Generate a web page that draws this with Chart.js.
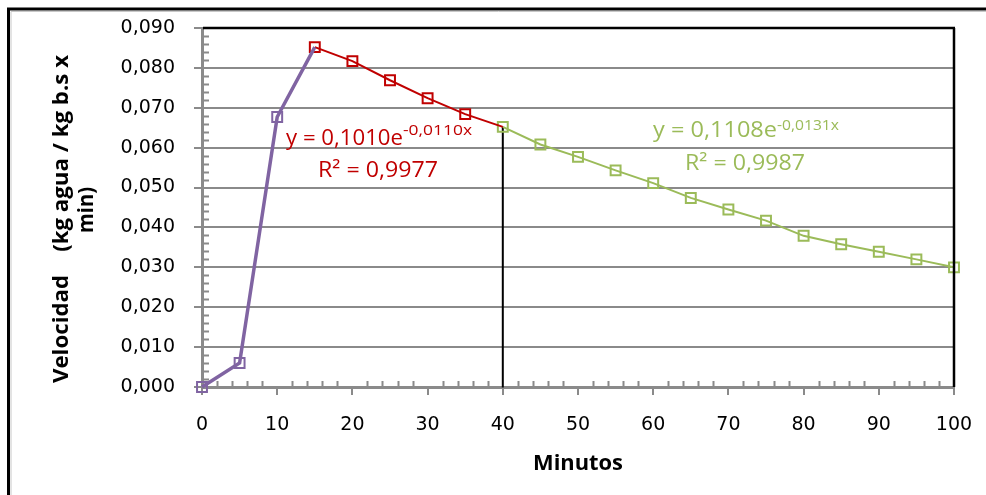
<!DOCTYPE html>
<html>
<head>
<meta charset="utf-8">
<script src="https://cdn.jsdelivr.net/npm/chart.js@4.4.1/dist/chart.umd.min.js"></script>
<style>
  html, body { margin: 0; padding: 0; background: #fff; }
  canvas { display: block; }
</style>
</head>
<body>
<canvas id="chart" width="986" height="495"></canvas>
<script>
// tiempo (min) and drying rate
const minutos = [0, 5, 10, 15, 20, 25, 30, 35, 40, 45, 50, 55, 60, 65, 70, 75, 80, 85, 90, 95, 100];
const velocidad = [0.0000, 0.0060, 0.0677, 0.0852, 0.0817, 0.0769, 0.0724, 0.0684, 0.0652,
  0.0608, 0.0577, 0.0543, 0.0511, 0.0474, 0.0445, 0.0417, 0.0379, 0.0358, 0.0339, 0.0320, 0.0300];

// index ranges of the three stretches of the curve
const tramoInicial = [0, 3];
const tramoConstante = [3, 8];
const tramoDecreciente = [8, 20];

const xTickLabels = ['0', '10', '20', '30', '40', '50', '60', '70', '80', '90', '100'];
const yTickLabels = ['0,000', '0,010', '0,020', '0,030', '0,040', '0,050', '0,060', '0,070', '0,080', '0,090'];

const ecuacion1 = { base: 'y = 0,1010e', exp: '-0,0110x', r2: 'R² = 0,9977' };
const ecuacion2 = { base: 'y = 0,1108e', exp: '-0,0131x', r2: 'R² = 0,9987' };

const AXIS_GRAY = '#8a8a8a';
const FONT = '"Open Sans", sans-serif';
const TICK_FONT = '"DejaVu Sans", sans-serif';

function puntos(rango) {
  const out = [];
  for (let i = rango[0]; i <= rango[1]; i++) out.push({ x: minutos[i], y: velocidad[i] });
  return out;
}

// hide the marker on the last point where the next stretch draws its own
function radios(rango, ocultarUltimo) {
  const r = [];
  for (let i = rango[0]; i <= rango[1]; i++) r.push(ocultarUltimo && i === rango[1] ? 0 : 7);
  return r;
}

// draw text squeezed/stretched to a given width (the source image is stretched sideways)
function textoAncho(ctx, txt, x, y, ancho, font, color, align) {
  ctx.save();
  ctx.font = font;
  ctx.fillStyle = color;
  ctx.textBaseline = 'alphabetic';
  const w = ctx.measureText(txt).width;
  const k = ancho / w;
  let left = x;
  if (align === 'center') left = x - ancho / 2;
  ctx.translate(left, y);
  ctx.scale(k, 1);
  ctx.textAlign = 'left';
  ctx.fillText(txt, 0, 0);
  ctx.restore();
}

const extras = {
  id: 'extras',
  beforeDraw(chart) {
    const ctx = chart.ctx;
    ctx.save();
    ctx.fillStyle = '#fff';
    ctx.fillRect(0, 0, chart.width, chart.height);
    ctx.restore();
  },
  afterDraw(chart) {
    const ctx = chart.ctx;
    const xs = chart.scales.x, ys = chart.scales.y;
    const area = chart.chartArea;
    ctx.save();

    // minor ticks, pointing into the plot
    ctx.strokeStyle = AXIS_GRAY;
    ctx.lineWidth = 2;
    ctx.beginPath();
    for (let v = 0; v <= 100.001; v += 2) {
      if (Math.round(v) % 10 === 0) continue;
      const px = Math.round(xs.getPixelForValue(v)) + 0.5;
      ctx.moveTo(px, area.bottom);
      ctx.lineTo(px, area.bottom - 6);
    }
    for (let k = 0; k <= 45; k++) {
      if (k % 5 === 0) continue;
      const py = Math.round(ys.getPixelForValue(k * 0.002)) + 0.5;
      ctx.moveTo(area.left, py);
      ctx.lineTo(area.left + 7, py);
    }
    ctx.stroke();

    // black top and right edges of the plot area
    ctx.strokeStyle = '#000';
    ctx.lineWidth = 2.5;
    ctx.beginPath();
    ctx.moveTo(area.left + 1, area.top);
    ctx.lineTo(area.right + 1, area.top);
    ctx.moveTo(area.right, area.top);
    ctx.lineTo(area.right, area.bottom);
    ctx.stroke();

    // outer chart frame
    ctx.strokeStyle = '#c8c8c8';
    ctx.lineWidth = 1;
    ctx.beginPath();
    ctx.moveTo(11, chart.height);
    ctx.lineTo(11, 11.5);
    ctx.lineTo(chart.width, 11.5);
    ctx.stroke();
    ctx.strokeStyle = '#000';
    ctx.lineWidth = 3;
    ctx.beginPath();
    ctx.moveTo(8.5, chart.height);
    ctx.lineTo(8.5, 9);
    ctx.lineTo(chart.width, 9);
    ctx.stroke();

    // trend line equations
    const rojo = '#c00000', verde = '#9bbb59';
    textoAncho(ctx, ecuacion1.base, 286, 145, 117, '22px ' + FONT, rojo);
    textoAncho(ctx, ecuacion1.exp, 403, 135, 69, '14px ' + FONT, rojo);
    textoAncho(ctx, ecuacion1.r2, 318, 177, 120, '22px ' + FONT, rojo);
    textoAncho(ctx, ecuacion2.base, 653, 137, 124, '22px ' + FONT, verde);
    textoAncho(ctx, ecuacion2.exp, 777, 130, 62, '14px ' + FONT, verde);
    textoAncho(ctx, ecuacion2.r2, 685, 170, 120, '22px ' + FONT, verde);

    // axis titles
    textoAncho(ctx, 'Minutos', 578, 470, 90, 'bold 21px ' + FONT, '#000', 'center');
    ctx.save();
    ctx.translate(68, 219);
    ctx.rotate(-Math.PI / 2);
    textoAncho(ctx, 'Velocidad    (kg agua / kg b.s x', 0, 0, 328, 'bold 22px ' + FONT, '#000', 'center');
    ctx.restore();
    ctx.save();
    ctx.translate(93, 210);
    ctx.rotate(-Math.PI / 2);
    textoAncho(ctx, 'min)', 0, 0, 46, 'bold 22px ' + FONT, '#000', 'center');
    ctx.restore();

    ctx.restore();
  }
};

new Chart(document.getElementById('chart'), {
  type: 'scatter',
  data: {
    datasets: [
      {
        data: puntos(tramoInicial),
        showLine: true,
        borderColor: '#8064a2',
        borderWidth: 3.5,
        pointStyle: 'rect',
        pointRadius: radios(tramoInicial, true),
        pointBorderColor: '#8064a2',
        pointBorderWidth: 2,
        pointBackgroundColor: 'rgba(0,0,0,0)',
        clip: false
      },
      {
        data: puntos(tramoConstante),
        showLine: true,
        borderColor: '#c00000',
        borderWidth: 2,
        pointStyle: 'rect',
        pointRadius: radios(tramoConstante, true),
        pointBorderColor: '#c00000',
        pointBorderWidth: 2,
        pointBackgroundColor: 'rgba(0,0,0,0)',
        clip: false
      },
      {
        data: puntos(tramoDecreciente),
        showLine: true,
        borderColor: '#9bbb59',
        borderWidth: 2,
        pointStyle: 'rect',
        pointRadius: radios(tramoDecreciente, false),
        pointBorderColor: '#9bbb59',
        pointBorderWidth: 2,
        pointBackgroundColor: 'rgba(0,0,0,0)',
        clip: false
      },
      {
        // vertical marker at the critical point
        data: [{ x: minutos[tramoDecreciente[0]], y: velocidad[tramoDecreciente[0]] },
               { x: minutos[tramoDecreciente[0]], y: -0.0001 }],
        showLine: true,
        borderColor: '#000',
        borderWidth: 2,
        pointRadius: 0,
        clip: false
      }
    ]
  },
  options: {
    responsive: false,
    animation: false,
    layout: { padding: { left: 0, top: 28, right: 32, bottom: 0 } },
    plugins: { legend: { display: false }, tooltip: { enabled: false } },
    scales: {
      x: {
        type: 'linear',
        min: 0,
        max: 100,
        afterFit: (s) => { s.height = 108; s.paddingLeft = 0; s.paddingRight = 0; },
        ticks: {
          stepSize: 10,
          padding: 19,
          color: '#000',
          font: { family: TICK_FONT, size: 19 },
          maxRotation: 0,
          callback: (v, i) => xTickLabels[i]
        },
        grid: { drawOnChartArea: false, drawTicks: true, tickLength: 8, color: AXIS_GRAY, lineWidth: 2 },
        border: { color: AXIS_GRAY, width: 3 }
      },
      y: {
        min: 0,
        max: 0.09,
        afterFit: (s) => { s.width = 202; s.paddingTop = 0; s.paddingBottom = 0; },
        ticks: {
          stepSize: 0.01,
          padding: 19,
          color: '#000',
          font: { family: TICK_FONT, size: 19 },
          callback: (v, i) => yTickLabels[i]
        },
        grid: { color: AXIS_GRAY, lineWidth: 2, tickLength: 8 },
        border: { color: AXIS_GRAY, width: 3 }
      }
    }
  },
  plugins: [extras]
});
</script>
</body>
</html>
